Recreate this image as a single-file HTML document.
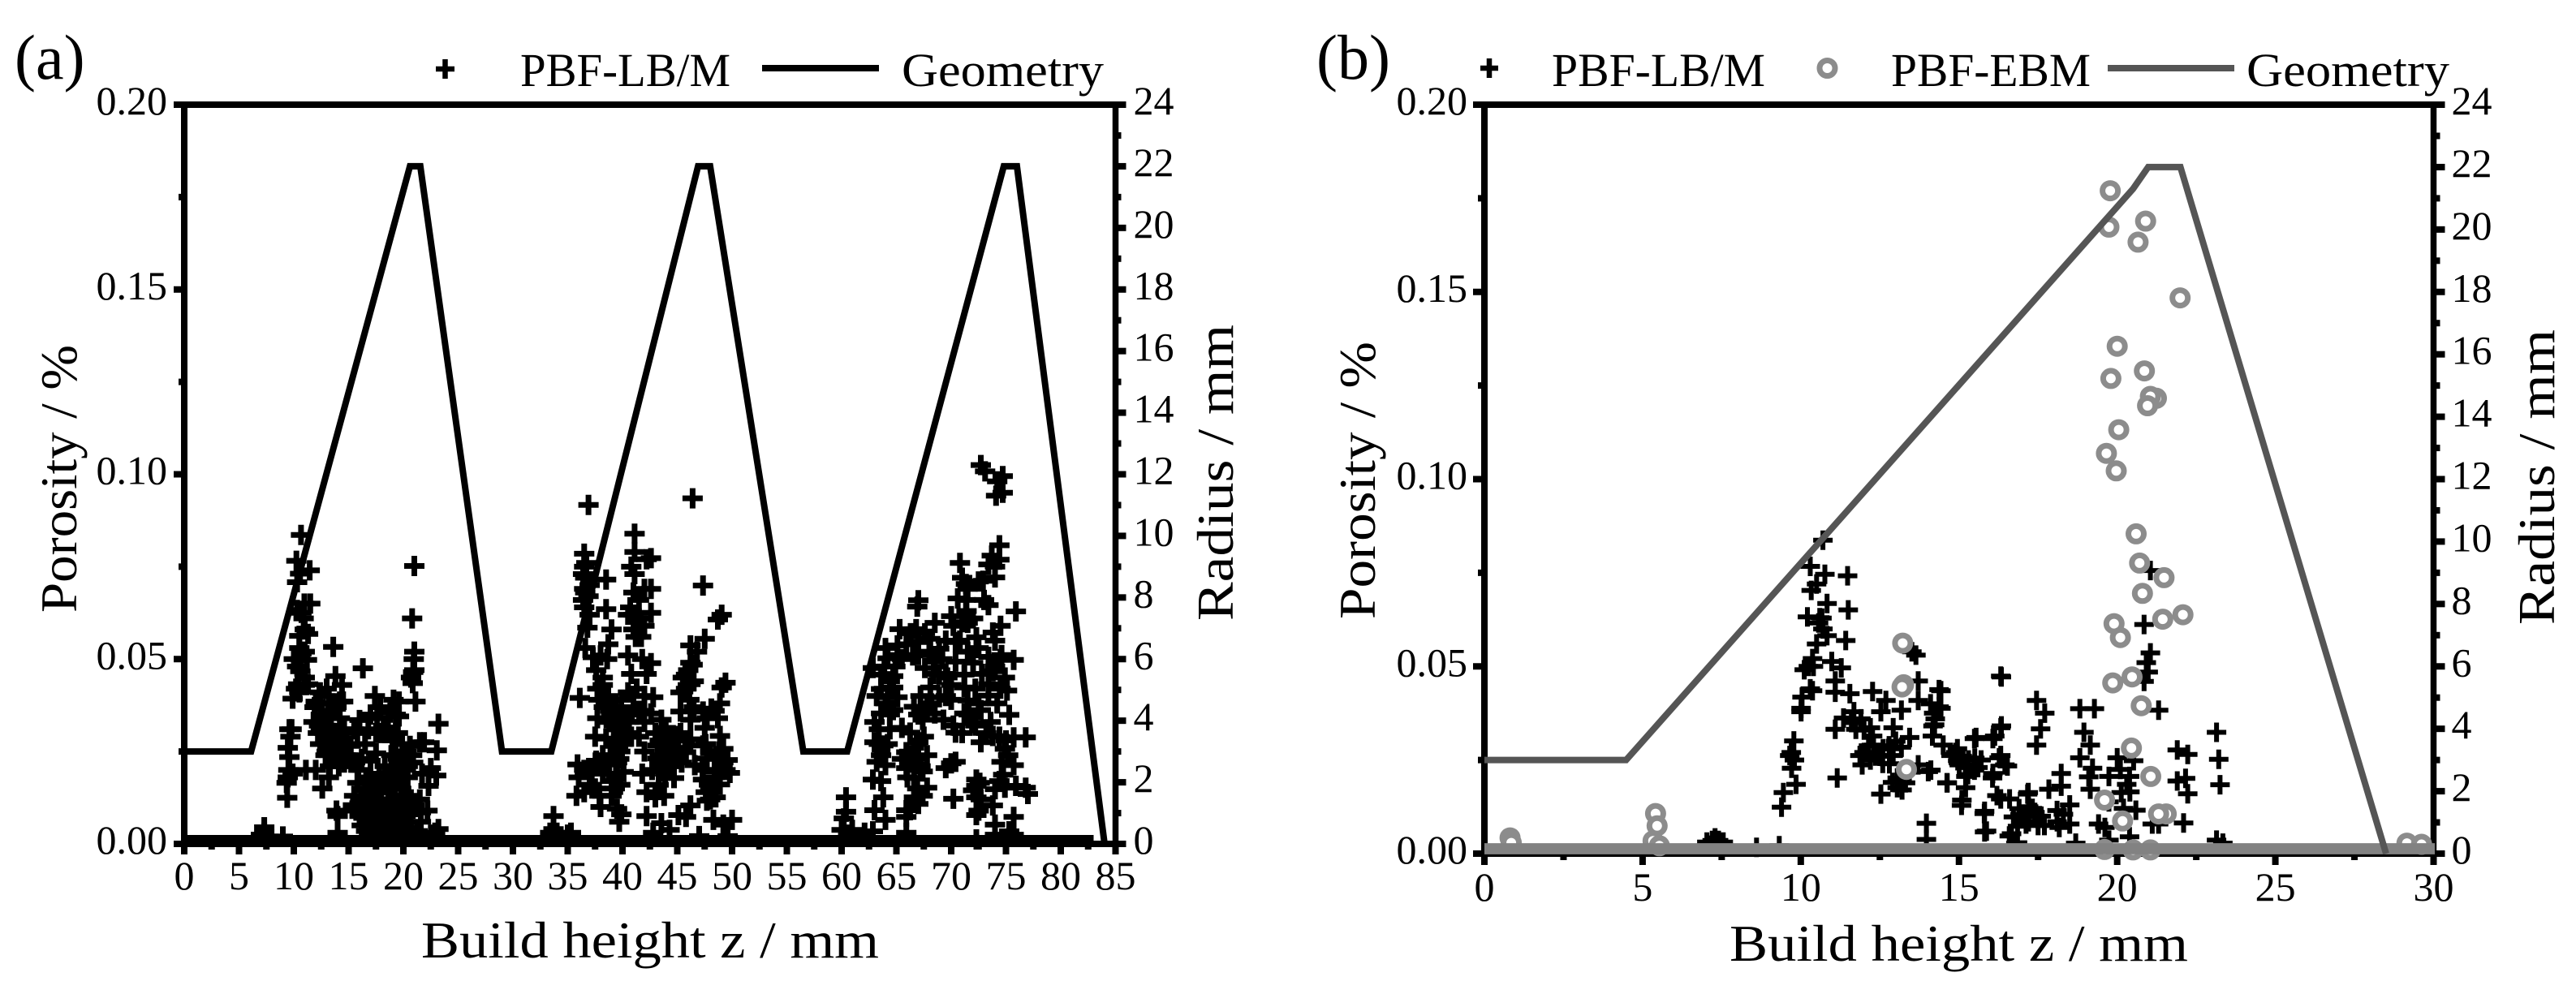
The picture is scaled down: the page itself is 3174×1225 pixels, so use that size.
<!DOCTYPE html>
<html lang="en">
<head>
<meta charset="utf-8">
<title>Porosity and radius over build height</title>
<style>
html,body{margin:0;padding:0;background:#fff;}
svg{display:block;}
text{font-family:"Liberation Serif",serif;fill:#000;}
</style>
</head>
<body>
<svg id="figure" xmlns="http://www.w3.org/2000/svg" width="3174" height="1225" viewBox="0 0 3174 1225">
  <rect width="3174" height="1225" fill="#fff"/>

  <g id="panelA"></g>
  <g id="panelB"></g>

  <text x="18" y="97" font-size="78">(a)</text>
  <text x="1622" y="97" font-size="78">(b)</text>

  <g>
    <path d="M537 85H560M548.500 73V97" stroke="#000" stroke-width="6.500" fill="none"/>
    <text x="641" y="106" font-size="58" textLength="259" lengthAdjust="spacingAndGlyphs">PBF-LB/M</text>
    <line x1="939" y1="84" x2="1083" y2="84" stroke="#000" stroke-width="8"/>
    <text x="1111" y="106" font-size="58" textLength="249" lengthAdjust="spacingAndGlyphs">Geometry</text>
  </g>

  <g>
    <path d="M1824 84H1846M1835 72V96" stroke="#000" stroke-width="6.500" fill="none"/>
    <text x="1912" y="106" font-size="58" textLength="263" lengthAdjust="spacingAndGlyphs">PBF-LB/M</text>
    <circle cx="2251.500" cy="84" r="9.500" fill="#fff" stroke="#8c8c8c" stroke-width="7"/>
    <text x="2330" y="106" font-size="58" textLength="246" lengthAdjust="spacingAndGlyphs">PBF-EBM</text>
    <line x1="2597" y1="84" x2="2753" y2="84" stroke="#555" stroke-width="8"/>
    <text x="2768" y="106" font-size="58" textLength="250" lengthAdjust="spacingAndGlyphs">Geometry</text>
  </g>

  <text x="519" y="1180" font-size="64" textLength="564" lengthAdjust="spacingAndGlyphs">Build height z / mm</text>
  <text x="2131" y="1184" font-size="64" textLength="565" lengthAdjust="spacingAndGlyphs">Build height z / mm</text>
  <text transform="translate(94 755) rotate(-90)" font-size="64" textLength="330" lengthAdjust="spacingAndGlyphs">Porosity / %</text>
  <text transform="translate(1694 763) rotate(-90)" font-size="64" textLength="342" lengthAdjust="spacingAndGlyphs">Porosity / %</text>
  <text transform="translate(1519 765) rotate(-90)" font-size="64" textLength="365" lengthAdjust="spacingAndGlyphs">Radius / mm</text>
  <text transform="translate(3147 770) rotate(-90)" font-size="64" textLength="364" lengthAdjust="spacingAndGlyphs">Radius / mm</text>
</svg>

<script>
// ---------- shared tick values ----------
const porosityTicks = ["0.00","0.05","0.10","0.15","0.20"];
const porosityMinorTicks = [0.025,0.075,0.125,0.175];
const radiusTicks = [0,2,4,6,8,10,12,14,16,18,20,22,24];
const radiusMinorTicks = [1,3,5,7,9,11,13,15,17,19,21,23];
const heightTicksA = [0,5,10,15,20,25,30,35,40,45,50,55,60,65,70,75,80,85];
const heightMinorTicksA = [2.5,7.5,12.5,17.5,22.5,27.5,32.5,37.5,42.5,47.5,52.5,57.5,62.5,67.5,72.5,77.5,82.5];
const heightTicksB = [0,5,10,15,20,25,30];
const heightMinorTicksB = [2.5,7.5,12.5,17.5,22.5,27.5];

// ---------- panel (a) values ----------
const geometryHeightA = [0,6.1,20.6,21.55,29,33.5,46.9,48,56.5,60.5,74.8,76,84];
const geometryRadiusA = [3,3,22,22,3,3,22,22,3,3,22,22,0];
const zeroRowHeightA = [0,83];
const zeroRowPorosityA = [0.0011,0.0011];

const lbmFirstPeakA = [
[10.66,.0836],[10.24,.0766],[11.45,.074],[10.58,.0731],[10.3,.0708],[10.96,.065],[11.5,.065],[10.3,.0633],[10.7,.0625],[10.9,.061],
[11,.058],[11.3,.0568],[10.5,.0563],[10.6,.05],[10,.05],[11.2,.0498],[10.7,.0515],[10.6,.0467],[11,.045],[10.4,.0432],[11.3,.0432],[9.9,.0393],[10.5,.041],
[9.6,.031],[9.7,.029],[9.45,.026],[9.6,.0235],[9.5,.02],[9.35,.0165],[9.45,.018],[9.4,.0125],[9.8,.031],[9.9,.019],[11.1,.02],
[12,.0385],[12.5,.035],[11.8,.033],[12.2,.03],[13,.042],[13.6,.0533],[13.8,.0454],[14.4,.043],[14.2,.0385],[13.2,.04],[14.5,.0385],[13.4,.035],[14.2,.034],[14,.03],
[13,.028],[12.4,.027],[13.4,.026],[12.9,.024],[13.7,.025],[14.4,.025],[15,.023],[13.3,.021],[14.6,.022],[15.6,.022],[14.1,.021],[13.2,.018],[12.6,.015],[12,.02],
[15.2,.0265],[15.8,.03],[16,.0335],[16.3,.0475],[17.4,.04],[17.9,.037],[19.1,.039],[19.6,.0385],[19.3,.035],[17.6,.034],[18.2,.031],[17.5,.03],[18.6,.0315],[19,.028],[19.5,.03],[16.8,.031],[15.5,.031],
[15.5,.013],[15.8,.0165],[15.4,.0105],[16,.011],[16.5,.015],[17,.018],[16.5,.01],[17,.012],[17.5,.015],[18,.017],[18.5,.019],[19,.021],[19.5,.023],[20,.025],[20.6,.0265],[20,.021],[19.4,.018],[18.6,.014],[18,.011],[17.4,.009],
[16.8,.007],[16.2,.005],[17,.004],[17.8,.006],[18.4,.008],[19,.012],[19.8,.015],[20.4,.018],[20.9,.022],[20.4,.013],[21,.01],[21.6,.0085],[20.6,.008],[20,.006],[19.4,.004],[18.7,.003],[18,.002],[17.2,.002],[20.2,.0035],
[13.9,.009],[14,.0075],[14,.003],[21.5,.0275],[21.9,.0275],[23.05,.0253],[23.2,.0325],[21.7,.019],[22.5,.0205],[23,.0185],[22.3,.0157],[21.5,.012],[22.2,.009],[21,.0105],[21.6,.006],[22.9,.003],[23.2,.004],[22.5,.0025],
[21,.0752],[20.8,.061],[21,.052],[20.95,.05],[21,.047],[20.7,.045],[20.9,.0465],[20.85,.0435],[21.1,.0385],
[7.3,.003],[7.3,.0045],[7,.0025],[7.7,.002],[9,.002],
[12.8,.03],[13.2,.031],[13.6,.03],[14,.029],[14.4,.028],[14.8,.027],[15.2,.024],[13.5,.027],[13.9,.026],[14.3,.024],[14.7,.024],[15.4,.022],[15.9,.02],[13.6,.023],[14,.023],[13,.025],[12.3,.032],[12.7,.034],[13.1,.036],[13.5,.038],[13.9,.037],[12.4,.041],[11.9,.037],[12.9,.032],[14.6,.031],[10.5,.053],[10.3,.048],[11,.052],[11,.043],[10.2,.042],
[16.2,.013],[16.6,.017],[17.2,.014],[17.6,.012],[18,.014],[18.3,.016],[18.7,.017],[19.2,.016],[19.6,.02],[20,.018],[20.4,.021],[20.8,.024],[19.3,.024],[19.9,.027],[20.3,.025],[18.9,.024],[18.3,.021],[17.8,.019],[17.3,.017],[16.9,.015],
[16.4,.008],[16.9,.01],[17.3,.006],[17.7,.009],[18.2,.007],[18.6,.01],[19.1,.009],[19.5,.011],[19.9,.012],[20.3,.01],[20.7,.012],[20.2,.0075],[19.6,.0075],[18.9,.006],[18.3,.004],[17.5,.004],[16.6,.0035],[19.8,.0035],[20.7,.004],[21.3,.0035],[21,.0025],
[16,.0075],[15.7,.009],[17,.0225],[17.5,.0245],[18,.03],[17,.035],[18.8,.0355],[16.5,.027],[16.2,.023],[19.6,.0345]
];

const lbmSecondPeakA = [
[36.9,.0917],[36.5,.0785],[36.5,.075],[36.6,.072],[37,.07],[38.5,.0715],[36.6,.068],[36.5,.069],[36.4,.066],[36.5,.064],[37,.062],[36.8,.0585],[38.5,.0635],[39,.058],[38.7,.054],[36.6,.053],[37.3,.0505],[38,.051],[38.6,.05],[37.6,.047],
[36.1,.0395],[37.8,.039],[38.7,.04],[38.3,.037],[37.7,.034],[38.9,.036],[39.9,.039],[37.5,.029],[38.5,.0285],[39.8,.033],[39.5,.028],[40.4,.03],[39.8,.025],[35.9,.0215],[37.6,.0225],[38.6,.0215],[39.5,.022],[40.1,.0195],[39,.017],
[35.8,.013],[36.5,.014],[37.5,.015],[38,.01],[39,.013],[39.5,.0095],[39.9,.008],[39.7,.006],[33.7,.0075],[33.7,.004],[33.4,.003],[34,.003],[35,.0025],[35.3,.003],
[41.1,.0839],[41.1,.079],[42.2,.077],[41.1,.073],[40.8,.075],[42,.069],[40.7,.064],[41,.062],[41.5,.061],[41,.058],[41.7,.056],[42,.059],[40.5,.051],[41.8,.05],[42.2,.046],[41.3,.042],[42,.04],[41,.04],[40.6,.035],[42,.033],[41.5,.029],[42,.025],[41.8,.019],[42.2,.014],[42.2,.0075],
[46.4,.0935],[47.35,.0699],[42.6,.0773],[42.6,.069],[42.6,.0625],[49.05,.062],[48.7,.0607],[47.5,.0555],[46.2,.0537],[46.8,.052],[42.6,.0489],[46.4,.0485],[45.8,.0458],[45.5,.045],[49.4,.0436],[49.05,.0423],[46.2,.0432],[45.3,.041],
[48.9,.038],[48.1,.0366],[47.35,.0358],[45.3,.0358],[46.2,.0336],[42.8,.0397],[43.55,.0336],[42.6,.0353],[47.5,.0314],[48.9,.0292],[43.95,.0314],[45.1,.0292],[46.2,.0283],[43.2,.0266],[44.3,.0266],[49.2,.0257],[47.35,.0266],[45.8,.0248],
[43.2,.0231],[44.7,.0222],[47.7,.0231],[49.6,.0227],[46.6,.0213],[49.8,.0192],[48.5,.0196],[43.6,.0196],[44.7,.0178],[47.35,.0174],[48.9,.0161],[48.1,.0148],[43,.0126],[47.7,.0117],[48.5,.0126],[46.2,.0104],[45.1,.0078],[45.8,.0073],
[48.3,.0065],[50,.0065],[49.2,.0052],[47,.0021],[43.55,.0056],[42.8,.003],[44.3,.0038],[49.6,.0021],
[39,.037],[39.4,.036],[39.8,.035],[40.2,.034],[40.6,.033],[38.8,.033],[39.2,.032],[39.6,.031],[40,.03],[40.8,.029],[39.2,.027],[39.6,.026],[40,.027],[38.9,.024],[39.3,.024],[39.7,.023],[38.2,.024],[37.8,.021],[38.2,.019],[38.8,.019],[39.4,.018],[39.8,.016],[39.3,.015],[37,.019],[36.5,.02],[36,.018],[37.2,.016],[37.9,.013],
[38.2,.043],[37.7,.042],[38.2,.045],[40.5,.041],[41,.037],[41.5,.036],[42,.036],[40.8,.046],[41.2,.056],[41.5,.066],[41,.068],[40.5,.062],[36.7,.076],[36.9,.067],[36.4,.073],
[43,.03],[43.4,.028],[43.8,.027],[44.2,.029],[44.6,.028],[45,.026],[43.4,.024],[43.8,.022],[44.2,.024],[44.6,.025],[45,.023],[45.4,.022],[43.9,.019],[44.3,.021],[45.3,.03],[45.7,.028],[46.5,.037],[46.1,.039],[45.8,.042],[46,.047],[46.2,.049],[46.5,.044],
[47.7,.034],[48.4,.036],[48.7,.034],[47.6,.027],[48,.025],[48.4,.023],[48.8,.025],[49.2,.022],[49.4,.02],[48.8,.02],[48.4,.018],[47.9,.016],[47.6,.014],[48,.012],[47.3,.02],[43.3,.016],[43.8,.013],[42.7,.02]
];

const lbmThirdPeakA = [
[60.4,.0126],[60.4,.0087],[60.2,.0069],[60,.0038],[60.96,.0038],[60.6,.0025],[62.85,.0034],[62.1,.003],[63,.0091],[63.8,.0126],[64,.0065],[65.9,.003],[65.9,.0073],[65.9,.0091],
[62.85,.0174],[63.6,.017],[63.2,.0222],[64,.0213],[63,.0275],[63.8,.0266],[63.4,.031],[64.4,.031],[63.6,.0353],[64.7,.0362],[64.2,.0397],[65.1,.0397],[63.6,.0419],[64.7,.0423],[63.6,.0458],[64.7,.0454],[64.2,.0502],[65.1,.0511],[65.3,.0581],[65.1,.0537],
[67,.0659],[66.9,.0642],[66.8,.0581],[67,.0546],[67,.0511],[68.5,.0598],[68.1,.0555],[68.9,.0528],[68.5,.0493],[67.6,.0476],[68.9,.0458],[68.1,.0423],[68.9,.0397],[67.8,.0371],[66.6,.0371],[68.5,.0353],[67.4,.0336],[69.3,.0336],[66.25,.0301],[65.5,.0314],
[67,.0275],[65.9,.0248],[67,.0231],[67.8,.024],[65.9,.0205],[67.4,.0196],[66.6,.0178],[67.8,.0152],[66.6,.0126],[67,.0108],[66.25,.0091],[70,.0218],[70.4,.0222],[69.5,.0205],[70.2,.0122],
[70.8,.076],[71.35,.0703],[72.9,.0712],[74,.0721],[74.4,.0769],[74.4,.0808],[73.4,.0756],[70.6,.0664],[71.35,.066],[73.4,.0646],[75.9,.0629],[72.7,.1025],[73.1,.1008],[74.2,.0981],[74.7,.0995],[74.1,.0942],[74.7,.095],
[70,.0616],[70.2,.059],[71.5,.0598],[72.3,.0559],[74.5,.059],[73.8,.0572],[70.4,.0546],[71.5,.052],[73.4,.0506],[75.7,.0498],[74.6,.0511],[70.4,.0493],[71.2,.0458],[69.65,.045],[73.8,.0467],[74.9,.045],[73.4,.0432],[71.2,.0423],[75.1,.0415],[73.4,.0401],
[71.5,.0388],[72.7,.0362],[75.3,.0349],[71.2,.0353],[71.9,.0327],[70.4,.0301],[73.8,.0292],[72.7,.0275],[75.7,.0288],[76.8,.0288],[74.9,.0257],[74.6,.0222],[75.7,.0213],[74.75,.0187],[72.3,.0174],[72.3,.0157],[74.9,.0152],[74,.0148],[76.8,.0152],[75.9,.0157],[77,.0135],
[72.3,.0126],[72.3,.0078],[73.8,.0104],[75.7,.0073],[74,.0052],[75.3,.0034],[72.3,.0012],[74,.0025],[75.7,.0025],[62.85,.0476],[64,.053],
[63,.033],[63.4,.027],[63.6,.024],[64.2,.027],[64.4,.035],[64,.038],[63.2,.04],[64.4,.044],[64.9,.048],[63.9,.048],[65.5,.05],[65.9,.054],[66.3,.057],[66.5,.051],[67.6,.057],[68,.052],[68.4,.046],[69.2,.05],[69.5,.055],[69.5,.046],[70,.043],[70,.039],[69.5,.04],[68.2,.038],[67.2,.04],[67.5,.029],[67,.035],[66.6,.026],[66.2,.022],[67.2,.021],[66.9,.015],[67.4,.013],[66,.018],[65.5,.023],
[72,.049],[72.5,.053],[72.8,.046],[72.2,.042],[72.5,.038],[70.8,.055],[71,.06],[71.4,.063],[72,.061],[74,.055],[74.5,.05],[74,.048],[74.5,.042],[74.2,.038],[70.2,.032],[71,.03],[71.6,.035],[72.2,.032],[73.2,.03],[73.6,.033],[74.4,.029],[75,.028],[75.2,.024],[74.4,.017],[72.6,.0165],[72,.0145],[72.7,.012],[72.5,.009],[73,.066],[72.5,.071],[71.5,.069],[71,.072],[74,.075],[73.7,.078]
];

// ---------- panel (b) values ----------
const geometryHeightB = [0,4.48,20.5,20.98,22,28.5];
const geometryRadiusB = [3,3,21.3,22,22,0];
const ebmZeroRowHeightB = [0,30.04];
const ebmZeroRowPorosityB = [0.0013,0.0013];

const lbmPointsB = [
[10.7,.0837],[10.3,.0767],[10.76,.0746],[11.48,.0742],[10.5,.072],[10.33,.0703],[10.83,.0668],[11.5,.0651],[10.21,.0632],[10.67,.0629],[10.56,.0616],[10.83,.0582],[11.42,.0569],[10.5,.056],
[10.37,.0521],[10.24,.05],[10.11,.0491],[10.98,.0513],[11.28,.0496],[11.09,.0461],[10.37,.0435],[10.04,.0418],[11.09,.0431],[11.55,.0427],[10.01,.0388],[10.01,.0379],[12.27,.0433],[12.69,.0409],[12.53,.0379],[13.18,.0383],[11.68,.0379],[11.35,.0362],
[13.71,.0461],[13.64,.053],[13.51,.0539],[13.71,.0409],[14.43,.0435],[14.43,.0388],[14.23,.0344],[14.16,.0314],[11.09,.0332],[11.74,.0332],[12.2,.0336],[12.92,.0336],[12.27,.0314],[13.44,.031],[12.79,.0288],[13.18,.0284],[12.14,.0288],
[11.87,.0262],[12.4,.0262],[12.92,.0262],[11.94,.0237],[12.59,.0241],[13.05,.0202],[13.31,.0189],[13.05,.0176],[12.53,.0159],[11.15,.0202],[13.71,.0237],[14.03,.0219],[14.62,.0189],[14.95,.028],[14.75,.0262],[15.01,.0237],
[15.54,.031],[16.13,.0314],[16.32,.0336],[15.47,.0237],[15.28,.0211],[16.32,.0262],[16.45,.0237],[16.06,.0202],[15.21,.0176],[15.08,.0129],[16.32,.0474],[16.32,.0146],[15.8,.0107],[15.87,.006],
[9.78,.0301],[9.65,.0262],[9.71,.0228],[9.85,.0185],[9.45,.0163],[9.39,.0124],[13.97,.0081],[13.97,.0038],[7.03,.0031],[7.29,.0042],[7.55,.0031],[8.6,.0017],[9.32,.0021],
[16.72,.0098],[16.85,.0073],[16.59,.0047],[17.11,.0098],[16.85,.0029],[17.17,.0159],
[21.05,.0756],[20.85,.0612],[21.05,.0536],[20.92,.051],[20.98,.0485],[20.85,.046],[21.31,.0383],[16.34,.0472],[17.45,.0409],[17.71,.0375],[17.58,.0333],[17.45,.029],[18.82,.0387],[19.28,.0387],[18.95,.0324],[19.15,.029],[18.82,.0256],
[23.14,.0324],[23.21,.0252],[23.25,.0184],[21.9,.0277],[22.23,.0265],[21.9,.0194],[22.16,.0201],[22.23,.016],[22.1,.0082],[21.31,.0079],[21.11,.0079],[23.14,.0036],[23.34,.0028],
[14.37,.0438],[14.37,.0392],[14.18,.0341],[14.5,.029],[14.77,.0265],[14.96,.0248],[14.11,.0223],[14.63,.0189],[15.22,.0206],[15.49,.0223],[15.49,.0307],[16.07,.0307],[16.34,.0341],[16.27,.0256],[16.53,.0234],[16.07,.0214],
[15.09,.0143],[16.2,.0155],[16.6,.0146],[15.81,.0113],[17.19,.0163],[17.84,.0172],[18.23,.018],[18.23,.0214],[17.32,.0121],[18.5,.013],[18.17,.007],[18.5,.0079],[16.93,.0104],[17.12,.0079],[16.66,.0053],[15.81,.0058],
[19.41,.0079],[19.61,.007],[20.13,.0163],[19.74,.0206],[20.39,.0206],[20,.0256],[20.52,.0248],[19.22,.0228],[19.15,.0172],[19.74,.0138],[20.59,.0116],[20.2,.0121],[19.74,.0036],[20.39,.0045],[16.8,.0028],[18.69,.0028],
[12,.027],[12.3,.029],[12.6,.028],[12.9,.028],[13,.03],[12.2,.025],[12.5,.026],[12.8,.024],[13.2,.017],[13.2,.02],[12.9,.019],[10.6,.063],[10.7,.06],[10.4,.05],[10.3,.044],[11.6,.035],[11.9,.036],[12,.033],
[14.9,.027],[15.1,.026],[15.3,.025],[15.5,.0255],[15.7,.025],[15.2,.023],[15.6,.023],[14.2,.0375],[14.25,.036],[14.1,.04],[16.9,.012],[17,.0105],[17.2,.0125],[17.4,.011],[17.6,.01],[17.2,.0085],[17.5,.0075],[17.7,.0075],[18.1,.0115],[18.3,.0105],[18.1,.0085],
[9.8,.025],[9.7,.027],[7.2,.0035],[7.4,.0035],[19.1,.0205],[20.1,.0225],[20.3,.0185],[20.4,.0165]
];

const ebmPointsB = [
[19.78,.177],[19.74,.1673],[20.9,.1689],[20.66,.1633],[21.99,.1484],[20,.1355],[20.86,.1289],[19.8,.1269],[21.24,.1216],[21.05,.1221],[20.96,.1196],[20.05,.1132],[19.66,.1069],[19.97,.1022],
[20.6,.0854],[20.71,.0776],[21.48,.0737],[20.8,.0695],[21.44,.0626],[22.08,.0638],[19.9,.0614],[20.1,.0577],[19.86,.0456],[20.47,.0472],[20.76,.0395],[20.45,.0282],[21.06,.0206],[19.6,.0143],[20.17,.0087],[21.55,.0106],[21.31,.0106],
[19.6,.0011],[20.5,.001],[21.05,.001],[29.16,.0028],[29.62,.0025],[13.22,.0562],[13.25,.0451],[13.2,.0445],[13.34,.0225],[5.41,.0107],[5.46,.0074],[5.33,.0034],[5.53,.0021],[.81,.0042],[.85,.0029]
];

// ---------- axis functions ----------
const xA = v => 227 + v * 13.5;
const yA = v => 1040 - v / 0.2 * 911;
const rA = v => 1040 - v / 24 * 911;
const xB = v => 1829 + v * 38.983;
const yB = v => 1052 - v / 0.2 * 923;
const rB = v => 1052 - v / 24 * 923;

const NS = "http://www.w3.org/2000/svg";
function mk(parent, tag, attrs, text) {
  const el = document.createElementNS(NS, tag);
  for (const k in attrs) el.setAttribute(k, attrs[k]);
  if (text !== undefined) el.textContent = text;
  parent.appendChild(el);
  return el;
}
function linePath(xs, ys, fx, fy) {
  return xs.map((v, i) => (i ? "L" : "M") + fx(v).toFixed(1) + " " + fy(ys[i]).toFixed(1)).join("");
}

function drawFrame(parent, fx, fy, fr, xMajors, xMinors, xMax, tickLabelY, major, minor) {
  const x0 = fx(0), x1 = fx(xMax), yB0 = fy(0), yT = fy(0.2);
  let el;
  el = mk(parent, "line", {x1:x0-major-4, y1:yT, x2:x1+major+4, y2:yT, stroke:"#000","stroke-width":8});
  
  
  el = mk(parent, "line", {x1:x0-major-4, y1:yB0, x2:x1+major+4, y2:yB0, stroke:"#000","stroke-width":8});
  
  
  el = mk(parent, "line", {x1:x0, y1:yT-4, x2:x0, y2:yB0+4, stroke:"#000","stroke-width":8});
  
  
  el = mk(parent, "line", {x1:x1, y1:yT-4, x2:x1, y2:yB0+4, stroke:"#000","stroke-width":7.5});
  
  

  xMajors.forEach(v => {
    const tick = mk(parent, "line", {x1:fx(v), y1:yB0, x2:fx(v), y2:yB0+4+major, stroke:"#000","stroke-width":8});
    
    
    const label = mk(parent, "text", {x:fx(v), y:tickLabelY, "font-size":50, "text-anchor":"middle"}, String(v));
    
    
  });
  xMinors.forEach(v => {
    const tick = mk(parent, "line", {x1:fx(v), y1:yB0, x2:fx(v), y2:yB0+4+minor, stroke:"#000","stroke-width":8});
    
    
  });
  porosityTicks.forEach(s => {
    const v = parseFloat(s);
    const tick = mk(parent, "line", {x1:x0-4-major, y1:fy(v), x2:x0, y2:fy(v), stroke:"#000","stroke-width":8});
    
    
    const label = mk(parent, "text", {x:x0-21, y:fy(v)+12, "font-size":50, "text-anchor":"end"}, s);
    
    
  });
  porosityMinorTicks.forEach(v => {
    const tick = mk(parent, "line", {x1:x0-4-minor, y1:fy(v), x2:x0, y2:fy(v), stroke:"#000","stroke-width":8});
    
    
  });
  radiusTicks.forEach(v => {
    const tick = mk(parent, "line", {x1:x1, y1:fr(v), x2:x1+4+major, y2:fr(v), stroke:"#000","stroke-width":8});
    
    
    const label = mk(parent, "text", {x:x1+22, y:fr(v)+12, "font-size":50}, String(v));
    
    
  });
  radiusMinorTicks.forEach(v => {
    const tick = mk(parent, "line", {x1:x1, y1:fr(v), x2:x1+4+minor, y2:fr(v), stroke:"#000","stroke-width":8});
    
    
  });
}

function drawPlus(parent, points, fx, fy, width, half) {
  points.forEach(p => {
    const x = fx(p[0]), y = fy(p[1]);
    const mark = mk(parent, "path", {
      d: "M" + (x-half).toFixed(1) + " " + y.toFixed(1) + "H" + (x+half).toFixed(1) +
         "M" + x.toFixed(1) + " " + (y-half).toFixed(1) + "V" + (y+half).toFixed(1),
      stroke:"#000", "stroke-width":width, fill:"none"
    });
    
    
  });
}

// ---------- draw panel (a) ----------
const panelA = document.getElementById("panelA");
drawFrame(panelA, xA, yA, rA, heightTicksA, heightMinorTicksA, 85, 1096, 9, 3);
drawPlus(panelA, lbmFirstPeakA, xA, yA, 7, 12.5);
drawPlus(panelA, lbmSecondPeakA, xA, yA, 7, 12.5);
drawPlus(panelA, lbmThirdPeakA, xA, yA, 7, 12.5);
const zeroRowA = mk(panelA, "path", {d:linePath(zeroRowHeightA, zeroRowPorosityA, xA, yA), stroke:"#000", "stroke-width":12, fill:"none"});


const geometryA = mk(panelA, "path", {d:linePath(geometryHeightA, geometryRadiusA, xA, rA), stroke:"#000", "stroke-width":8, fill:"none", "stroke-linejoin":"miter"});



// ---------- draw panel (b) ----------
const panelB = document.getElementById("panelB");
drawFrame(panelB, xB, yB, rB, heightTicksB, heightMinorTicksB, 30, 1110, 10, 4);
drawPlus(panelB, lbmPointsB, xB, yB, 6, 12);
ebmPointsB.forEach(p => {
  const ring = mk(panelB, "circle", {cx:xB(p[0]).toFixed(1), cy:yB(p[1]).toFixed(1), r:9.5, fill:"#fff", stroke:"#8c8c8c", "stroke-width":7});
  
  
});
const zeroRowB = mk(panelB, "path", {d:linePath(ebmZeroRowHeightB, ebmZeroRowPorosityB, xB, yB), stroke:"#828282", "stroke-width":13.7, fill:"none"});


const geometryB = mk(panelB, "path", {d:linePath(geometryHeightB, geometryRadiusB, xB, rB), stroke:"#555", "stroke-width":8, fill:"none", "stroke-linejoin":"miter"});


</script>
</body>
</html>
